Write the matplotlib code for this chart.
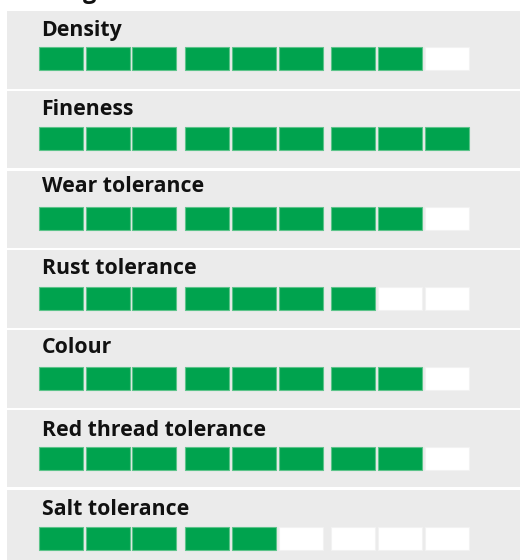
import matplotlib
matplotlib.use("Agg")
import matplotlib.pyplot as plt
from matplotlib.patches import Rectangle

# ---- data ----
categories = ["Density", "Fineness", "Wear tolerance", "Rust tolerance",
              "Colour", "Red thread tolerance", "Salt tolerance"]
scores = [8, 9, 8, 7, 8, 8, 5]
max_score = 9
title = "Rating"

# ---- style / layout ----
plt.rcParams['font.family'] = ['Open Sans', 'DejaVu Sans']
GREEN = "#00A34E"
GREEN_EDGE = "#5cc48a"
EMPTY = "#FFFFFF"
EMPTY_EDGE = "#f2f2f2"
PANEL = "#EBEBEB"

W, H = 520, 560
fig = plt.figure(figsize=(W / 100, H / 100), dpi=100)
ax = fig.add_axes([0, 0, 1, 1])
ax.set_xlim(0, W)
ax.set_ylim(H, 0)
ax.axis("off")

panel_top0 = 11.0
panel_pitch = 79.75
panel_h = 77.5
panel_x = 7
row_top0 = 46.7
row_pitch = 80.05
label_gap = [10.7, 11.6, 14.4, 12.7, 13.7, 11.0, 12.0]  # baseline above cells
cell_x0 = 38.7
cell_pitch = 46.85
group_gap = 5.8
cell_w = 44.0
cell_h = 23.0

# cropped title at very top
ax.text(97, -2.5, title, ha="right", va="baseline", fontsize=17,
        fontweight="bold", color="#111111")

for i, (cat, sc) in enumerate(zip(categories, scores)):
    ptop = panel_top0 + i * panel_pitch
    ax.add_patch(Rectangle((panel_x, ptop), W - panel_x + 5, panel_h,
                           facecolor=PANEL, edgecolor="none", zorder=0))
    rtop = row_top0 + i * row_pitch
    ax.text(41.5, rtop - label_gap[i], cat, ha="left", va="baseline",
            fontsize=15.3, fontweight="bold", color="#111111", zorder=3)
    idx = list(range(max_score))
    xs = [cell_x0 + j * cell_pitch + (j // 3) * group_gap for j in idx]
    fills = [GREEN if j < sc else EMPTY for j in idx]
    edges = [GREEN_EDGE if j < sc else EMPTY_EDGE for j in idx]
    ax.bar(xs, cell_h, bottom=rtop, width=cell_w, align="edge",
           color=fills, edgecolor=edges, linewidth=0.8, zorder=2)

fig.savefig("out.png", dpi=100)
